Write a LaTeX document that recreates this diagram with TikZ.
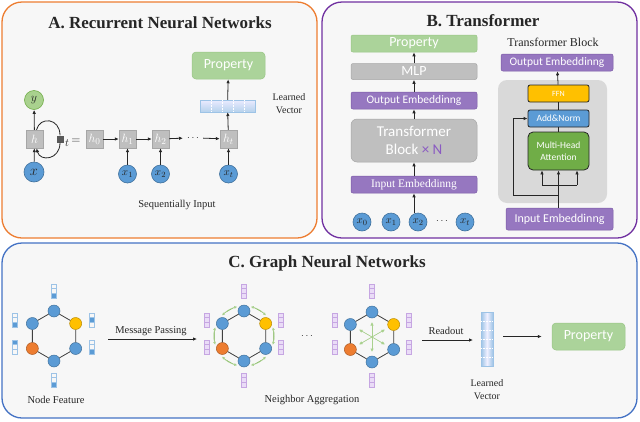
\documentclass[tikz,border=0pt]{standalone}
\usepackage{fontspec}
\setmainfont{Liberation Serif}
\newfontfamily\boxfont{Carlito}
\usetikzlibrary{arrows.meta}
\definecolor{panelbg}{HTML}{F7F7F7}
\definecolor{orA}{HTML}{ED7D31}
\definecolor{puB}{HTML}{7030A0}
\definecolor{blC}{HTML}{4472C4}
\definecolor{propG}{HTML}{ABD39A}
\definecolor{propGd}{HTML}{98C585}
\definecolor{grayB}{HTML}{BFBFBF}
\definecolor{grayBd}{HTML}{A6A6A6}
\definecolor{purp}{HTML}{9677C0}
\definecolor{purpd}{HTML}{7B5AA6}
\definecolor{blueC}{HTML}{5B9BD5}
\definecolor{blueCd}{HTML}{41719C}
\definecolor{oraC}{HTML}{ED7D31}
\definecolor{oraCd}{HTML}{AE5A21}
\definecolor{yelC}{HTML}{FFC000}
\definecolor{yelCd}{HTML}{BC8C00}
\definecolor{grnC}{HTML}{70AD47}
\definecolor{grnL}{HTML}{A9D18E}
\definecolor{txt}{HTML}{262626}
\definecolor{arrc}{HTML}{262626}
\definecolor{tbbg}{HTML}{D9D9D9}
\definecolor{xN}{HTML}{8A5AC2}
\definecolor{fvb}{HTML}{9DC3E6}
\definecolor{fvpF}{HTML}{EADCF7}
\definecolor{fvpD}{HTML}{C6A6E2}
\tikzset{
  panel/.style={line width=1.3pt, fill=panelbg, rounded corners=20pt},
  title/.style={font=\fontsize{17}{20}\selectfont\bfseries, text=txt},
  lbl/.style={font=\fontsize{10.5}{12}\selectfont, text=txt, align=center},
  arr/.style={-{Latex[length=4pt,width=3.5pt]}, line width=0.8pt, draw=arrc},
  plain/.style={line width=0.8pt, draw=arrc},
  prop/.style={rectangle, rounded corners=4pt, fill=propG, draw=propGd, line width=0.5pt, text=white, font=\boxfont\fontsize{14}{16}\selectfont, inner sep=0pt},
  hbox/.style={rectangle, fill=grayB, draw=grayBd, line width=0.4pt, minimum width=17pt, minimum height=18pt, inner sep=0pt, text=white, font=\fontsize{12.5}{13}\selectfont},
  bcirc/.style={circle, fill=blueC, draw=blueCd, line width=0.6pt, minimum size=18pt, inner sep=0pt, font=\fontsize{11}{12}\selectfont, text=txt},
  gcirc/.style={circle, fill=grnL, draw=grnC, line width=0.6pt, minimum size=19pt, inner sep=0pt, font=\fontsize{13}{13}\selectfont, text=txt},
  pbox/.style={rectangle, rounded corners=2pt, fill=purp, draw=purpd, line width=0.5pt, text=white, inner sep=0pt, font=\boxfont\fontsize{11.5}{13}\selectfont},
  grbox/.style={rectangle, rounded corners=3pt, fill=grayB, draw=grayBd, line width=0.5pt, text=white, inner sep=0pt, font=\boxfont\fontsize{14}{16}\selectfont},
  tbin/.style={rectangle, rounded corners=2pt, draw=arrc, line width=0.8pt, text=white, inner sep=0pt, minimum width=61pt, font=\boxfont\fontsize{9.5}{11.5}\selectfont, align=center},
  vtx/.style={circle, minimum size=12pt, inner sep=0pt, line width=0.5pt},
  bv/.style={vtx, fill=blueC, draw=blueCd},
  ov/.style={vtx, fill=oraC, draw=oraCd},
  yv/.style={vtx, fill=yelC, draw=yelCd},
  gedge/.style={line width=0.8pt, draw=black!75},
  fvB/.style={draw=fvb, line width=0.4pt},
  fvP/.style={draw=fvpD, fill=fvpF, line width=0.4pt},
  garc/.style={{Latex[length=3pt,width=3pt]}-{Latex[length=3pt,width=3pt]}, draw=grnL, line width=0.6pt, color=grnL, fill=grnC},
  gray1/.style={-{Latex[length=3.5pt,width=3.5pt]}, draw=grnL, line width=0.6pt, fill=grnC}
}
\newcommand\fvecB[3]{%
  \fill[blueC] (#1-2.5,#2-7+#3*4.667-4.667) rectangle ++(5,4.667);
  \draw[fvB] (#1-2.5,#2-7) rectangle ++(5,14) (#1-2.5,#2-2.333) -- ++(5,0) (#1-2.5,#2+2.333) -- ++(5,0);
}
\newcommand\fvecP[2]{%
  \draw[fvP] (#1-2.5,#2-7) rectangle ++(5,14);
  \draw[draw=fvpD, line width=0.4pt] (#1-2.5,#2-2.333) -- ++(5,0) (#1-2.5,#2+2.333) -- ++(5,0);
}
\newcommand\gnnhex[3]{%
  \node[bv] (#1a) at (#2,#3-25) {};
  \node[yv] (#1b) at (#2+21.65,#3-12.5) {};
  \node[bv] (#1c) at (#2+21.65,#3+12.5) {};
  \node[bv] (#1d) at (#2,#3+25) {};
  \node[ov] (#1e) at (#2-21.65,#3+12.5) {};
  \node[bv] (#1f) at (#2-21.65,#3-12.5) {};
  \draw[gedge] (#1a) -- (#1b) (#1b) -- (#1c) (#1c) -- (#1d) (#1d) -- (#1e) (#1e) -- (#1f) (#1f) -- (#1a);
}
\begin{document}
\begin{tikzpicture}[x=1pt,y=-1pt]
\useasboundingbox (0,0) rectangle (640,421);
% panels
\draw[panel, draw=orA] (2,2) rectangle (317,238);
\draw[panel, draw=puB] (322,2) rectangle (637,238);
\draw[panel, draw=blC] (2,243) rectangle (637,418);

% ---------- Panel A ----------
\node[title] (tA) at (160,23) {A. Recurrent Neural Networks};
\node[prop, minimum width=73pt, minimum height=27pt] (propA) at (228.5,65.5) {Property};
\node[rectangle, minimum width=55pt, minimum height=12pt, inner sep=0pt, top color=blue!8, bottom color=blueC!45, draw=fvb, line width=0.3pt] (vecA) at (227.5,106) {};
\foreach \i in {1,2,3,4} \draw[white, densely dotted, line width=0.5pt] (200+\i*11,100) -- (200+\i*11,112);
\node[lbl, font=\fontsize{10}{13}\selectfont] (lvA) at (289,104) {Learned\\Vector};

\node[hbox] (hA) at (34.5,139) {$h$};
\node[gcirc] (yA) at (34,100) {$y$};
\node[bcirc, minimum size=20pt, font=\fontsize{14}{14}\selectfont] (xA) at (34,172) {$x$};
\node[rectangle, fill=black!65, minimum size=7pt, inner sep=0pt] (sq) at (60,139) {};
\node[font=\fontsize{11}{12}\selectfont, text=txt, inner sep=0pt] (tt) at (67,143) {$t$};
\node[font=\fontsize{12}{12}\selectfont, text=txt, inner sep=0pt] (eq) at (76,141) {$=$};
\draw[arr] (hA) -- (yA);
\draw[arr] (xA) -- (hA);
\draw[arr] ([xshift=2pt]hA.north) .. controls (40,116) and (60,118) .. (sq.north) (sq.south) .. controls (60,160) and (40,162) .. ([xshift=2pt]hA.south);

\node[hbox] (h0) at (94.5,139) {$h_0$};
\node[hbox] (h1) at (127.5,139) {$h_1$};
\node[hbox] (h2) at (160.5,139) {$h_2$};
\node[hbox] (ht) at (228.5,139) {$h_t$};
\node[font=\fontsize{10}{12}\selectfont, text=txt, inner sep=0pt] (dA) at (193,138) {$\cdots$};
\draw[arr] (h0) -- (h1);
\draw[arr] (h1) -- (h2);
\draw[arr, shorten >=4pt] (h2) -- (dA.west);
\draw[arr, shorten <=4pt] (dA.east) -- (ht);
\node[bcirc] (x1A) at (127.5,174) {$x_1$};
\node[bcirc] (x2A) at (160.5,174) {$x_2$};
\node[bcirc] (xtA) at (228.5,174) {$x_t$};
\draw[arr] (x1A) -- (h1);
\draw[arr] (x2A) -- (h2);
\draw[arr] (xtA) -- (ht);
\draw[arr] (ht) -- (vecA);
\draw[arr] (vecA) -- (propA);
\node[lbl] (seq) at (177,205) {Sequentially Input};

% ---------- Panel B ----------
\node[title] (tB) at (483,21) {B. Transformer};
\node[prop, rounded corners=2pt, minimum width=126pt, minimum height=17pt] (propB) at (414,43.5) {Property};
\node[grbox, rounded corners=2pt, minimum width=126pt, minimum height=16pt] (mlp) at (414,71.5) {MLP};
\node[pbox, minimum width=126pt, minimum height=17pt] (outL) at (414,100.5) {Output Embeddinng};
\node[grbox, rounded corners=6pt, minimum width=126pt, minimum height=43pt, align=center, font=\boxfont\fontsize{15}{18}\selectfont] (tb) at (414,140.5) {Transformer\\Block {\color{xN}× N}};
\node[pbox, minimum width=126pt, minimum height=17pt, font=\fontsize{11.5}{12}\selectfont] (inL) at (414,184.5) {Input Embeddinng};
\draw[arr] (mlp) -- (propB);
\draw[arr] (outL) -- (mlp);
\draw[arr] (tb) -- (outL);
\draw[arr] (inL) -- (tb);
\node[bcirc] (x0B) at (362,222) {$x_0$};
\node[bcirc] (x1B) at (391,222) {$x_1$};
\node[bcirc] (x2B) at (418,222) {$x_2$};
\node[font=\fontsize{10}{12}\selectfont, text=txt, inner sep=0pt] (dB) at (442,221) {$\cdots$};
\node[bcirc] (xtB) at (465,222) {$x_t$};
\draw[arr] (inL.south |- x2B.north) -- (inL.south);

\node[font=\fontsize{12}{13}\selectfont, text=txt] (tbt) at (553,42) {Transformer Block};
\node[pbox, minimum width=112pt, minimum height=17pt] (outR) at (557,62.5) {Output Embeddinng};
\node[rectangle, rounded corners=9pt, fill=tbbg, minimum width=109pt, minimum height=123pt] (bg) at (552.5,141.5) {};
\node[tbin, fill=yelC, minimum height=17pt, font=\boxfont\fontsize{8}{10}\selectfont] (ffn) at (558.5,93.5) {FFN};
\node[tbin, fill=blueC, minimum height=17pt] (addn) at (558.5,118.5) {Add\&Norm};
\node[tbin, fill=grnC, rounded corners=5pt, minimum height=38pt] (mha) at (558.5,151) {Multi-Head\\Attention};
\node[pbox, minimum width=107pt, minimum height=22pt, font=\boxfont\fontsize{12}{13}\selectfont] (inR) at (559.5,219) {Input Embeddinng};
\coordinate (bl) at (542,185);
\coordinate (brr) at (577,185);
\coordinate (rs1) at (559,195);
\coordinate (rs2) at (513,195);
\draw[arr] (inR.north -| mha.south) -- (mha.south);
\draw[plain] (bl) -- (brr);
\draw[arr] (bl) -- (bl |- mha.south);
\draw[arr] (brr) -- (brr |- mha.south);
\draw[arr] (rs1) -- (rs2) |- (addn.west);
\draw[plain] (mha) -- (addn);
\draw[plain] (addn) -- (ffn);
\draw[arr] (ffn) -- (outR);

% ---------- Panel C ----------
\node[title] (tC) at (327,263) {C. Graph Neural Networks};
% graph 1
\gnnhex{ga}{54}{336}
\fvecB{54}{291}{3}
\fvecB{15}{320}{3}
\fvecB{15}{347}{1}
\fvecB{92}{320}{2}
\fvecB{92}{347}{3}
\fvecB{54}{380}{3}
\node[lbl] (nf) at (56,400) {Node Feature};
% graph 2
\gnnhex{gb}{244}{336}
\foreach \a in {-90,-30,30,90,150,210}
  \draw[garc] (244,336) ++(\a+13:30) arc[start angle=\a+13, end angle=\a+47, radius=30];
\fvecP{244}{291}
\fvecP{207}{320}
\fvecP{207}{347}
\fvecP{281}{320}
\fvecP{281}{347}
\fvecP{244}{380}
\coordinate (mpS) at (108,339);
\coordinate (mpE) at (197,339);
\draw[arr] (mpS) -- (mpE);
\node[lbl] (mp) at (151,331) {Message Passing};
\node[font=\fontsize{10}{12}\selectfont, text=txt, inner sep=0pt] (dC) at (307,336) {$\cdots$};
% graph 3
\gnnhex{gc}{372}{337}
\foreach \a in {-90,-30,30,90,150,210}
  \draw[gray1] (372,337) -- ++(\a:15);
\fvecP{372}{291}
\fvecP{335}{320}
\fvecP{335}{347}
\fvecP{409}{320}
\fvecP{409}{347}
\fvecP{372}{380}
\node[lbl] (na) at (312,400) {Neighbor Aggregation};
% readout
\node[rectangle, minimum width=12pt, minimum height=54pt, inner sep=0pt, left color=blueC!60, right color=blueC!60, middle color=blue!6, draw=fvb, line width=0.3pt] (vecC) at (487,339) {};
\foreach \i in {1,...,5} \draw[white, densely dotted, line width=0.5pt] (481,312+\i*9) -- (493,312+\i*9);
\coordinate (roS) at (422,340);
\coordinate (roE) at (473,340);
\draw[arr] (roS) -- (roE);
\node[lbl] (ro) at (446,331) {Readout};
\node[lbl, font=\fontsize{10}{13}\selectfont] (lvC) at (487,390) {Learned\\Vector};
\node[prop, minimum width=73pt, minimum height=27pt] (propC) at (588.5,336.5) {Property};
\draw[arr, shorten <=10pt, shorten >=10pt] (vecC.east |- propC.west) -- (propC.west);
\end{tikzpicture}
\end{document}
